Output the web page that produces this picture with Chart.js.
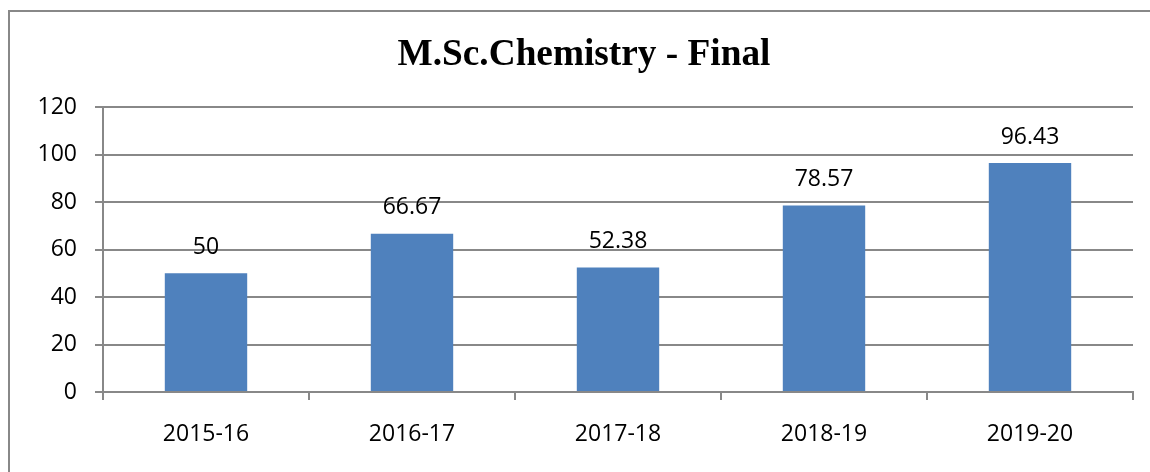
<!DOCTYPE html>
<html>
<head>
<meta charset="utf-8">
<script src="https://cdn.jsdelivr.net/npm/chart.js@4/dist/chart.umd.min.js"></script>
<style>
  html, body { margin: 0; padding: 0; background: #fff; }
  #wrap { position: relative; width: 1150px; height: 472px; }
</style>
</head>
<body>
<div id="wrap"><canvas id="c" width="1150" height="472"></canvas></div>
<script>
const categories = ['2015-16', '2016-17', '2017-18', '2018-19', '2019-20'];
const passPercent = [50, 66.67, 52.38, 78.57, 96.43];
const valueLabels = ['50', '66.67', '52.38', '78.57', '96.43'];
const yTicks = [0, 20, 40, 60, 80, 100, 120];
const chartTitle = 'M.Sc.Chemistry - Final';

const LABEL_FONT = { family: "'Open Sans', 'Liberation Sans', sans-serif", size: 23 };

const frame = {
  id: 'frame',
  beforeDraw(chart) {
    const ctx = chart.ctx;
    ctx.save();
    ctx.strokeStyle = '#888888';
    ctx.lineWidth = 2;
    ctx.beginPath();
    ctx.moveTo(9, 480);
    ctx.lineTo(9, 11);
    ctx.lineTo(1160, 11);
    ctx.stroke();
    ctx.fillStyle = '#000';
    ctx.font = "bold 37.3px 'Liberation Serif', 'Times New Roman', serif";
    ctx.textAlign = 'center';
    ctx.textBaseline = 'alphabetic';
    ctx.fillText(chartTitle, 584, 65);
    ctx.restore();
  }
};

const dataLabels = {
  id: 'dataLabels',
  afterDatasetsDraw(chart) {
    const ctx = chart.ctx;
    const meta = chart.getDatasetMeta(0);
    ctx.save();
    ctx.fillStyle = '#000';
    ctx.font = `${LABEL_FONT.size}px ${LABEL_FONT.family}`;
    ctx.textAlign = 'center';
    ctx.textBaseline = 'middle';
    meta.data.forEach((bar, i) => {
      ctx.fillText(valueLabels[i], bar.x, bar.y - 26);
    });
    ctx.restore();
  }
};

new Chart(document.getElementById('c'), {
  type: 'bar',
  data: {
    labels: categories,
    datasets: [{
      data: passPercent,
      backgroundColor: '#4F81BD',
      borderWidth: 0,
      barPercentage: 0.4,
      categoryPercentage: 1.0
    }]
  },
  options: {
    responsive: false,
    animation: false,
    layout: { padding: { left: 0, right: 17, top: 107, bottom: 0 } },
    plugins: {
      legend: { display: false },
      tooltip: { enabled: false },
      title: { display: false }
    },
    scales: {
      x: {
        grid: { display: true, drawOnChartArea: false, drawTicks: true, tickLength: 8, color: '#888888', lineWidth: 2, offset: true },
        border: { display: true, color: '#888888', width: 2 },
        ticks: { color: '#000', font: LABEL_FONT, padding: 21, maxRotation: 0 },
        afterFit(s) { s.height = 80; }
      },
      y: {
        min: 0, max: 120,
        afterBuildTicks(s) { s.ticks = yTicks.map(v => ({ value: v })); },
        grid: { color: '#888888', lineWidth: 2, tickLength: 8 },
        border: { display: true, color: '#888888', width: 2 },
        ticks: { color: '#000', font: LABEL_FONT, padding: 18 },
        afterFit(s) { s.width = 103; }
      }
    }
  },
  plugins: [frame, dataLabels]
});
</script>
</body>
</html>
